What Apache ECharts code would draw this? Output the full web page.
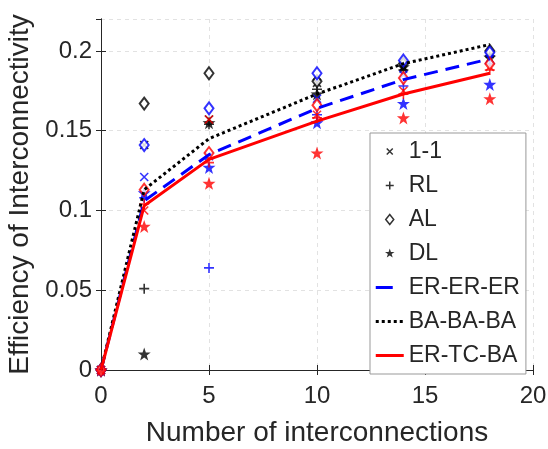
<!DOCTYPE html>
<html>
<head>
<meta charset="utf-8">
<script src="https://cdn.jsdelivr.net/npm/echarts@6/dist/echarts.min.js"></script>
<style>
  html, body { margin: 0; padding: 0; background: #fff; }
  #main { width: 548px; height: 449px; }
</style>
</head>
<body>
<div id="main"></div>
<script>
// number of interconnections
var xs = [0, 2, 5, 10, 14, 18];

// mean curves
var erLine = [0, 0.106, 0.135, 0.164, 0.182, 0.195];
var baLine = [0, 0.113, 0.145, 0.173, 0.192, 0.204];
var tcLine = [0, 0.103, 0.132, 0.156, 0.173, 0.186];

// black = BA-BA-BA, blue = ER-ER-ER, red = ER-TC-BA
var baOne = [0, 0.141, 0.157, 0.180, 0.190, 0.198];
var baRL  = [0, 0.051, 0.154, 0.176, 0.188, 0.197];
var baAL  = [0, 0.167, 0.186, 0.181, 0.192, 0.200];
var baDL  = [0, 0.010, 0.155, 0.173, 0.190, 0.196];

var erOne = [0, 0.121, 0.134, 0.170, 0.185, 0.195];
var erRL  = [0, 0.108, 0.064, 0.160, 0.178, 0.192];
var erAL  = [0, 0.141, 0.164, 0.186, 0.194, 0.199];
var erDL  = [0, 0.111, 0.127, 0.155, 0.167, 0.179];

var tcOne = [0, 0.100, 0.157, 0.160, 0.175, 0.190];
var tcRL  = [0, 0.104, 0.130, 0.158, 0.173, 0.188];
var tcAL  = [0, 0.113, 0.136, 0.166, 0.183, 0.192];
var tcDL  = [0, 0.090, 0.117, 0.136, 0.158, 0.170];

var xTicks = [0, 5, 10, 15, 20];
var yTicks = [0, 0.05, 0.1, 0.15, 0.2];

function pairs(ys) {
  return xs.map(function (x, i) { return [x, ys[i]]; });
}

function starPts(r, cx, cy) {
  var s = '';
  for (var k = 0; k < 10; k++) {
    var rad = (k % 2 === 0) ? r : r * 0.4;
    var a = -Math.PI / 2 + k * Math.PI / 5;
    s += (k === 0 ? 'M' : 'L') + (cx + rad * Math.cos(a)).toFixed(2) + ',' + (cy + rad * Math.sin(a)).toFixed(2);
  }
  return s + 'Z';
}

var CROSS = 'path://M-1,-1L1,1M1,-1L-1,1';
var PLUS = 'path://M-1,0L1,0M0,-1L0,1';
var STAR = 'path://' + starPts(1, 0, 0);

// legend icons, padded to the 28x20 item box
var PAD = 'M-14,-10M14,10';
var legCross = 'path://' + PAD + 'M-3,-3L3,3M3,-3L-3,3';
var legPlus = 'path://' + PAD + 'M-4,0L4,0M0,-4L0,4';
var legDiam = 'path://' + PAD + 'M0,-5L4,0L0,5L-4,0Z';
var legStar = 'path://' + PAD + starPts(5, 0, 0);
var legDash = 'path://' + PAD + 'M-14,-1.5h17v3h-17Z';
var legDots = 'path://' + PAD + 'M-14,-1.5h3v3h-3ZM-8,-1.5h3v3h-3ZM-2,-1.5h3v3h-3ZM4,-1.5h3v3h-3ZM10,-1.5h3v3h-3Z';
var legSolid = 'path://' + PAD + 'M-14,-1.5h28v3h-28Z';

var shapes = [
  { name: '1-1', symbol: CROSS, size: 8 },
  { name: 'RL', symbol: PLUS, size: 10 },
  { name: 'AL', symbol: 'emptyDiamond', size: [9, 12] },
  { name: 'DL', symbol: STAR, size: 13 }
];
var groups = [
  { color: '#000000', sets: [baOne, baRL, baAL, baDL] },
  { color: '#0000ff', sets: [erOne, erRL, erAL, erDL] },
  { color: '#ff0000', sets: [tcOne, tcRL, tcAL, tcDL] }
];

var series = [];
groups.forEach(function (g) {
  shapes.forEach(function (sh, j) {
    series.push({
      name: sh.name,
      type: 'scatter',
      symbol: sh.symbol,
      symbolSize: sh.size,
      itemStyle: {
        color: g.color,
        borderColor: g.color,
        borderWidth: sh.name === 'DL' ? 0 : 1.6
      },
      emphasis: { disabled: true },
      data: pairs(g.sets[j])
    });
  });
});

series.push({
  name: 'ER-ER-ER', type: 'line', symbol: 'none', z: 3,
  lineStyle: { color: '#0000ff', width: 3, type: [14, 8] },
  itemStyle: { color: '#0000ff' },
  data: pairs(erLine)
});
series.push({
  name: 'BA-BA-BA', type: 'line', symbol: 'none', z: 3,
  lineStyle: { color: '#000000', width: 3, type: [3, 3] },
  itemStyle: { color: '#000000' },
  data: pairs(baLine)
});
series.push({
  name: 'ER-TC-BA', type: 'line', symbol: 'none', z: 4,
  lineStyle: { color: '#ff0000', width: 3 },
  itemStyle: { color: '#ff0000' },
  data: pairs(tcLine)
});

var axisCol = '#262626';
var textCol = '#262626';
var font = 'Liberation Sans, Arial, sans-serif';

var myChart = echarts.init(document.getElementById('main'), null, { renderer: 'canvas' });
myChart.setOption({
  animation: false,
  backgroundColor: '#ffffff',
  grid: {
    left: 101, right: 15, top: 19, bottom: 79,
    outerBoundsMode: 'none'
  },
  legend: {
    orient: 'vertical',
    left: 370, top: 133,
    padding: [7, 6, 7, 5],
    itemWidth: 28, itemHeight: 20, itemGap: 11,
    backgroundColor: '#fff',
    borderColor: '#999', borderWidth: 1,
    selectedMode: false,
    textStyle: { fontFamily: font, fontSize: 23, color: textCol },
    data: [
      { name: '1-1', icon: legCross, itemStyle: { color: '#000', borderColor: '#000', borderWidth: 1.5 } },
      { name: 'RL', icon: legPlus, itemStyle: { color: '#000', borderColor: '#000', borderWidth: 1.5 } },
      { name: 'AL', icon: legDiam, itemStyle: { color: '#fff', borderColor: '#000', borderWidth: 1.5 } },
      { name: 'DL', icon: legStar, itemStyle: { color: '#000', borderColor: '#000', borderWidth: 0 } },
      { name: 'ER-ER-ER', icon: legDash, itemStyle: { color: '#0000ff', borderWidth: 0 } },
      { name: 'BA-BA-BA', icon: legDots, itemStyle: { color: '#000000', borderWidth: 0 } },
      { name: 'ER-TC-BA', icon: legSolid, itemStyle: { color: '#ff0000', borderWidth: 0 } }
    ]
  },
  xAxis: [{
    type: 'value', min: xTicks[0], max: xTicks[xTicks.length - 1], interval: 5,
    name: 'Number of interconnections', nameLocation: 'middle', nameGap: 49,
    nameTextStyle: { fontFamily: font, fontSize: 28, color: textCol },
    axisLine: { show: true, lineStyle: { color: axisCol, width: 1 } },
    axisTick: { show: true, inside: true, length: 5, lineStyle: { color: axisCol } },
    axisLabel: { fontFamily: font, fontSize: 24, color: textCol, margin: 14 },
    splitLine: { show: true, lineStyle: { color: '#e2e2e2', type: [4, 4] } }
  }, {
    type: 'value', position: 'top', min: 0, max: 20, interval: 5,
    axisLine: { show: true, lineStyle: { color: axisCol, width: 1 } },
    axisTick: { show: true, inside: true, length: 5, lineStyle: { color: axisCol } },
    axisLabel: { show: false }, splitLine: { show: false }
  }],
  yAxis: [{
    type: 'value', min: yTicks[0], max: 0.22, interval: 0.05,
    name: 'Efficiency of Interconnectivity', nameLocation: 'middle', nameGap: 65,
    nameTextStyle: { fontFamily: font, fontSize: 28, color: textCol },
    axisLine: { show: true, lineStyle: { color: axisCol, width: 1 } },
    axisTick: { show: true, inside: true, length: 5, lineStyle: { color: axisCol } },
    axisLabel: { fontFamily: font, fontSize: 24, color: textCol, margin: 9, showMaxLabel: false },
    splitLine: { show: true, lineStyle: { color: '#e2e2e2', type: [4, 4] } }
  }, {
    type: 'value', position: 'right', min: 0, max: 0.22, interval: 0.05,
    axisLine: { show: true, lineStyle: { color: axisCol, width: 1 } },
    axisTick: { show: true, inside: true, length: 5, lineStyle: { color: axisCol } },
    axisLabel: { show: false }, splitLine: { show: false }
  }],
  series: series
});
</script>
</body>
</html>
